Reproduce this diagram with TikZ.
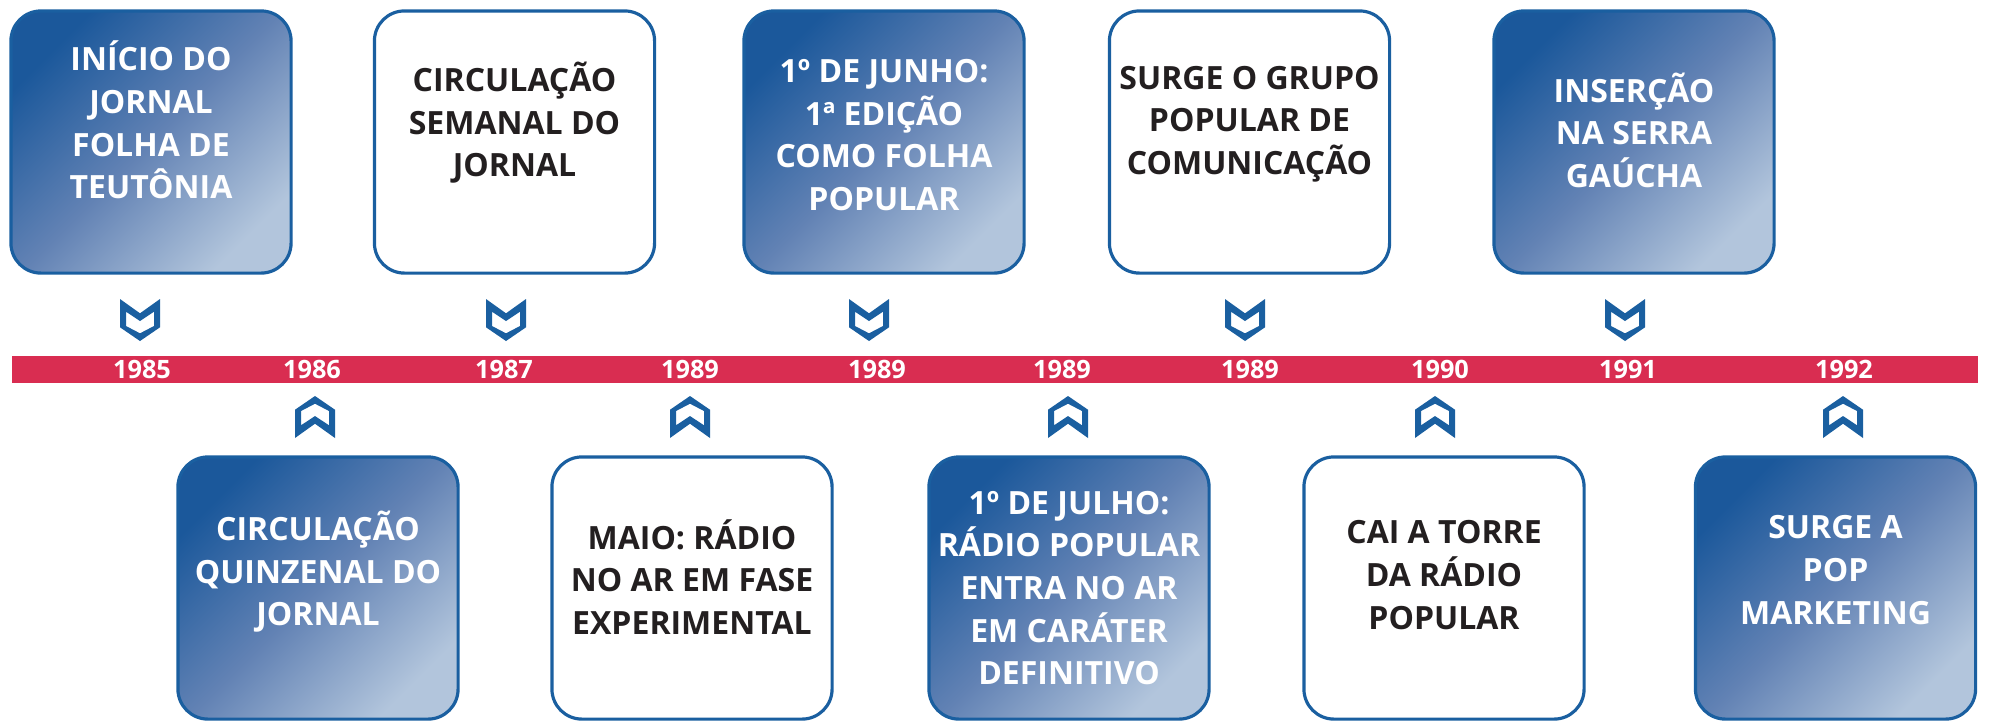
\documentclass[tikz,border=0pt]{standalone}
\usepackage{fontspec}
\setsansfont{Open Sans}
\usepackage{tikz}
\usetikzlibrary{positioning}
\usepackage{xcolor}
\definecolor{markblue}{RGB}{26, 95, 160}
\definecolor{barred}{RGB}{217, 45, 81}
\definecolor{gradtop}{RGB}{27, 88, 155}
\definecolor{gradmid}{RGB}{98, 130, 180}
\definecolor{gradbot}{RGB}{178, 197, 220}
\definecolor{textdark}{RGB}{35, 31, 32}

\begin{document}
\begin{tikzpicture}[
    x=0.01cm, y=-0.01cm,
    event/.style={rectangle, draw=markblue, rounded corners=0.3cm, minimum width=2.8cm, minimum height=2.62cm, inner sep=0pt, line width=0.9pt},
    filled/.style={event, top color=gradtop, bottom color=gradbot, middle color=gradmid, shading angle=45},
    plain/.style={event, fill=white},
    caption/.style={align=center, inner sep=0pt, font=\sffamily\bfseries\fontsize{9.1}{12.1}\selectfont},
    light/.style={caption, text=white},
    dark/.style={caption, text=textdark},
    year/.style={inner sep=0pt, text=white, font=\sffamily\bfseries\fontsize{7.2}{8}\selectfont},
    downmark/.pic={\fill[markblue, even odd rule] (-20,-21) -- (0,-6.7) -- (20,-21) -- (20,7.3) -- (0,21) -- (-20,7.3) -- cycle
        (-14,-8.3) -- (0,1) -- (14,-8.3) -- (14,6) -- (0,13.3) -- (-14,6) -- cycle;},
    upmark/.pic={\fill[markblue, even odd rule] (-20,21) -- (0,6.7) -- (20,21) -- (20,-7.3) -- (0,-21) -- (-20,-7.3) -- cycle
        (-14,8.3) -- (0,-1) -- (14,8.3) -- (14,-6) -- (0,-13.3) -- (-14,-6) -- cycle;},
]
\useasboundingbox (0,0) rectangle (1994,720);

% Timeline bar
\node[fill=barred, minimum width=19.65cm, minimum height=0.27cm, inner sep=0pt, anchor=west] (bar) at (11,369.5) {};

% Years
\node[year] (y1985) at (142,369.5) {1985};
\node[year] (y1986) at (312,369.5) {1986};
\node[year] (y1987) at (504,369.5) {1987};
\node[year] (y1989a) at (690,369.5) {1989};
\node[year] (y1989b) at (877,369.5) {1989};
\node[year] (y1989c) at (1062,369.5) {1989};
\node[year] (y1989d) at (1250,369.5) {1989};
\node[year] (y1990) at (1440,369.5) {1990};
\node[year] (y1991) at (1628,369.5) {1991};
\node[year] (y1992) at (1844,369.5) {1992};

% Top events
\node[filled] (b1) at (151,142) {};
\node[light] (t1) at (151,120) {INÍCIO DO\\JORNAL\\FOLHA DE\\TEUTÔNIA};
\node[plain] (b2) at (514.5,142) {};
\node[dark] (t2) at (514.5,123) {CIRCULAÇÃO\\SEMANAL DO\\JORNAL};
\node[filled] (b3) at (884,142) {};
\node[light] (t3) at (884,135) {1º DE JUNHO:\\1ª EDIÇÃO\\COMO FOLHA\\POPULAR};
\node[plain] (b4) at (1249.5,142) {};
\node[dark] (t4) at (1249.5,124) {SURGE O GRUPO\\POPULAR DE\\COMUNICAÇÃO};
\node[filled] (b5) at (1634,142) {};
\node[light] (t5) at (1634,130) {INSERÇÃO\\NA SERRA\\GAÚCHA};

% Bottom events
\node[filled] (b6) at (318,588) {};
\node[light] (t6) at (318,572) {CIRCULAÇÃO\\QUINZENAL DO\\JORNAL};
\node[plain] (b7) at (692,588) {};
\node[dark] (t7) at (692,577) {MAIO: RÁDIO\\NO AR EM FASE\\EXPERIMENTAL};
\node[filled] (b8) at (1069,588) {};
\node[light] (t8) at (1069,588) {1º DE JULHO:\\RÁDIO POPULAR\\ENTRA NO AR\\EM CARÁTER\\DEFINITIVO};
\node[plain] (b9) at (1444,588) {};
\node[dark] (t9) at (1444,575) {CAI A TORRE\\DA RÁDIO\\POPULAR};
\node[filled] (b10) at (1835.5,588) {};
\node[light] (t10) at (1835.5,570) {SURGE A\\POP\\MARKETING};

% Markers
\pic at (140,320) {downmark};
\pic at (506,320) {downmark};
\pic at (869,320) {downmark};
\pic at (1245,320) {downmark};
\pic at (1625,320) {downmark};
\pic at (315,417) {upmark};
\pic at (690,417) {upmark};
\pic at (1068,417) {upmark};
\pic at (1435,417) {upmark};
\pic at (1843,417) {upmark};

\end{tikzpicture}
\end{document}
